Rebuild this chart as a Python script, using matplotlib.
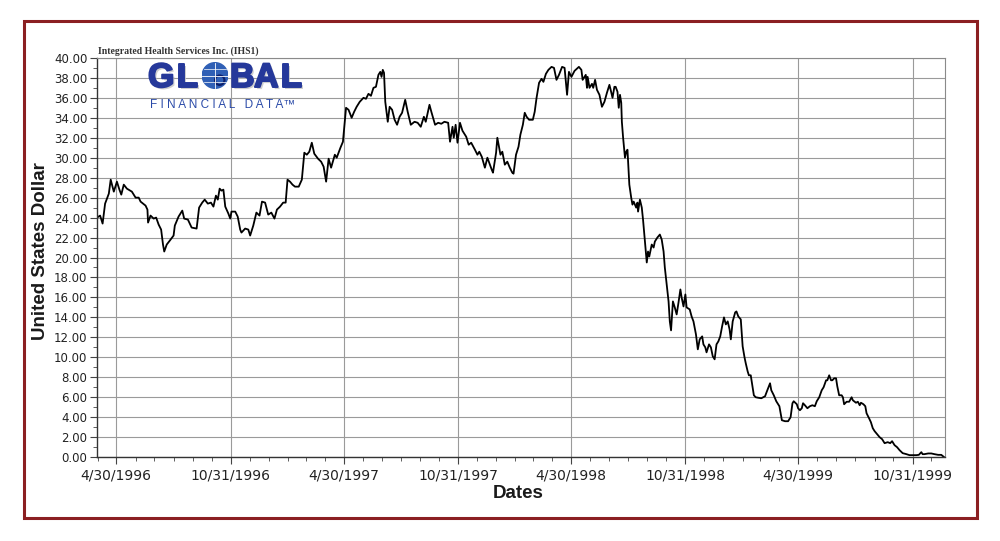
import pandas as pd
import matplotlib
matplotlib.use("Agg")
from matplotlib import pyplot as plt
import matplotlib.dates as mdates
from matplotlib.patches import Rectangle, Circle
from matplotlib.ticker import MultipleLocator, FormatStrFormatter
import matplotlib.patheffects as pe

# Integrated Health Services Inc. (IHS1), price in USD
dates_1996 = ["1996-03-30", "1996-04-04", "1996-04-08", "1996-04-12", "1996-04-18", "1996-04-21",
              "1996-04-26", "1996-05-01", "1996-05-05", "1996-05-08", "1996-05-12", "1996-05-17",
              "1996-05-25", "1996-05-31", "1996-06-05", "1996-06-08", "1996-06-16", "1996-06-19",
              "1996-06-20", "1996-06-24", "1996-06-29", "1996-07-03", "1996-07-07", "1996-07-11",
              "1996-07-14", "1996-07-16", "1996-07-20", "1996-07-25", "1996-07-31", "1996-08-02",
              "1996-08-08", "1996-08-14", "1996-08-17", "1996-08-23", "1996-08-29", "1996-09-06",
              "1996-09-10", "1996-09-15", "1996-09-19", "1996-09-24", "1996-09-29", "1996-10-03",
              "1996-10-07", "1996-10-10", "1996-10-13", "1996-10-16", "1996-10-19", "1996-10-22",
              "1996-10-27", "1996-10-30", "1996-11-01", "1996-11-07", "1996-11-11", "1996-11-15",
              "1996-11-17", "1996-11-23", "1996-11-28", "1996-12-01", "1996-12-06", "1996-12-11",
              "1996-12-16", "1996-12-20", "1996-12-25", "1996-12-30"]
price_1996 = [24.0, 24.2, 23.4, 25.4, 26.4, 27.8,
              26.6, 27.6, 26.8, 26.3, 27.3, 26.9,
              26.6, 26.0, 26.0, 25.6, 25.2, 24.8,
              23.5, 24.2, 23.9, 24.0, 23.3, 22.8,
              21.3, 20.6, 21.3, 21.7, 22.2, 23.2,
              24.1, 24.7, 23.9, 23.8, 23.0, 22.9,
              25.0, 25.5, 25.8, 25.4, 25.5, 25.1,
              26.2, 25.8, 26.9, 26.7, 26.8, 25.1,
              24.4, 23.9, 24.6, 24.6, 24.1, 22.8,
              22.5, 22.9, 22.8, 22.2, 23.2, 24.5,
              24.2, 25.6, 25.5, 24.3]

dates_1997 = ["1997-01-04", "1997-01-09", "1997-01-13", "1997-01-18", "1997-01-23", "1997-01-27",
              "1997-01-30", "1997-02-03", "1997-02-07", "1997-02-11", "1997-02-17", "1997-02-22",
              "1997-02-26", "1997-03-02", "1997-03-06", "1997-03-10", "1997-03-14", "1997-03-20",
              "1997-03-25", "1997-03-29", "1997-04-02", "1997-04-06", "1997-04-10", "1997-04-16",
              "1997-04-19", "1997-04-25", "1997-04-29", "1997-05-01", "1997-05-04", "1997-05-08",
              "1997-05-13", "1997-05-17", "1997-05-21", "1997-05-26", "1997-06-01", "1997-06-05",
              "1997-06-09", "1997-06-13", "1997-06-17", "1997-06-21", "1997-06-25", "1997-06-28",
              "1997-06-30", "1997-07-02", "1997-07-04", "1997-07-06", "1997-07-10", "1997-07-13",
              "1997-07-17", "1997-07-21", "1997-07-25", "1997-07-29", "1997-08-02", "1997-08-07",
              "1997-08-11", "1997-08-16", "1997-08-22", "1997-08-27", "1997-09-01", "1997-09-06",
              "1997-09-09", "1997-09-15", "1997-09-18", "1997-09-24", "1997-09-29", "1997-10-04",
              "1997-10-09", "1997-10-15", "1997-10-18", "1997-10-22", "1997-10-24", "1997-10-27",
              "1997-10-30", "1997-11-03", "1997-11-07", "1997-11-13", "1997-11-17", "1997-11-21",
              "1997-11-27", "1997-12-01", "1997-12-04", "1997-12-08", "1997-12-13", "1997-12-17",
              "1997-12-24", "1997-12-26", "1997-12-31"]
price_1997 = [24.5, 23.9, 24.8, 25.1, 25.5, 25.5,
              27.8, 27.6, 27.3, 27.1, 27.1, 27.8,
              30.5, 30.3, 30.6, 31.5, 30.4, 29.9,
              29.6, 29.1, 27.6, 29.9, 29.0, 30.3,
              30.0, 31.0, 31.6, 33.0, 35.0, 34.8,
              34.0, 34.6, 35.1, 35.6, 36.0, 35.9,
              36.4, 36.2, 37.0, 37.1, 38.3, 38.6,
              38.1, 38.8, 38.5, 35.6, 33.6, 35.1,
              34.8, 33.8, 33.3, 34.1, 34.5, 35.8,
              34.6, 33.3, 33.6, 33.5, 33.1, 34.1,
              33.6, 35.3, 34.6, 33.3, 33.5, 33.4,
              33.6, 33.5, 31.6, 33.1, 32.0, 33.3,
              31.5, 33.5, 32.7, 32.1, 31.3, 31.5,
              30.8, 30.3, 30.6, 30.1, 29.0, 30.0,
              28.8, 28.5, 30.5]

dates_1998 = ["1998-01-02", "1998-01-07", "1998-01-10", "1998-01-14", "1998-01-18", "1998-01-22",
              "1998-01-26", "1998-01-28", "1998-02-01", "1998-02-05", "1998-02-08", "1998-02-12",
              "1998-02-15", "1998-02-18", "1998-02-22", "1998-02-28", "1998-03-03", "1998-03-06",
              "1998-03-10", "1998-03-14", "1998-03-17", "1998-03-21", "1998-03-25", "1998-03-30",
              "1998-04-03", "1998-04-07", "1998-04-11", "1998-04-16", "1998-04-20", "1998-04-24",
              "1998-04-27", "1998-05-01", "1998-05-06", "1998-05-13", "1998-05-17", "1998-05-19",
              "1998-05-24", "1998-05-26", "1998-05-27", "1998-05-30", "1998-06-03", "1998-06-05",
              "1998-06-08", "1998-06-11", "1998-06-15", "1998-06-19", "1998-06-23", "1998-06-27",
              "1998-07-01", "1998-07-03", "1998-07-06", "1998-07-09", "1998-07-11", "1998-07-14",
              "1998-07-16", "1998-07-18", "1998-07-20", "1998-07-21", "1998-07-23", "1998-07-26",
              "1998-07-28", "1998-07-30", "1998-07-31", "1998-08-02", "1998-08-05", "1998-08-07",
              "1998-08-09", "1998-08-13", "1998-08-15", "1998-08-16", "1998-08-19", "1998-08-22",
              "1998-08-24", "1998-08-27", "1998-08-30", "1998-09-01", "1998-09-03", "1998-09-07",
              "1998-09-10", "1998-09-12", "1998-09-16", "1998-09-20", "1998-09-23", "1998-09-26",
              "1998-09-28", "1998-10-01", "1998-10-04", "1998-10-06", "1998-10-08", "1998-10-11",
              "1998-10-14", "1998-10-17", "1998-10-20", "1998-10-23", "1998-10-25", "1998-10-28",
              "1998-10-31", "1998-11-02", "1998-11-07", "1998-11-10", "1998-11-13", "1998-11-17",
              "1998-11-20", "1998-11-23", "1998-11-27", "1998-11-29", "1998-12-02", "1998-12-04",
              "1998-12-08", "1998-12-11", "1998-12-14", "1998-12-17", "1998-12-20", "1998-12-23",
              "1998-12-26", "1998-12-29"]
price_1998 = [32.0, 30.3, 30.6, 29.3, 29.6, 29.0,
              28.5, 28.4, 30.3, 31.1, 32.3, 33.3,
              34.5, 34.1, 33.8, 33.8, 34.6, 36.0,
              37.5, 37.9, 37.6, 38.4, 38.8, 39.1,
              39.0, 37.8, 38.3, 39.1, 39.0, 36.3,
              38.6, 38.1, 38.7, 39.1, 38.8, 37.8,
              38.3, 37.0, 38.1, 37.0, 37.4, 37.0,
              37.8, 36.8, 36.3, 35.1, 35.6, 36.5,
              37.3, 36.8, 36.0, 37.1, 37.1, 36.6,
              35.0, 36.3, 35.5, 33.6, 32.0, 30.0,
              30.6, 30.8, 29.6, 27.3, 26.0, 25.3,
              25.6, 25.0, 25.5, 24.6, 25.8, 25.0,
              23.8, 21.6, 19.5, 20.6, 20.1, 21.3,
              21.0, 21.6, 22.0, 22.3, 21.8, 20.6,
              19.0, 17.3, 15.6, 13.6, 12.7, 15.6,
              15.0, 14.3, 15.5, 16.8, 16.0, 15.1,
              16.3, 15.0, 14.8, 14.1, 13.6, 12.3,
              10.8, 11.8, 12.1, 11.3, 11.0, 10.5,
              11.3, 11.0, 10.1, 9.8, 11.3, 11.6,
              12.1, 13.1]

dates_1999 = ["1999-01-01", "1999-01-04", "1999-01-07", "1999-01-10", "1999-01-12", "1999-01-15",
              "1999-01-19", "1999-01-21", "1999-01-24", "1999-01-28", "1999-01-31", "1999-02-03",
              "1999-02-05", "1999-02-08", "1999-02-10", "1999-02-13", "1999-02-15", "1999-02-18",
              "1999-02-21", "1999-02-25", "1999-03-02", "1999-03-08", "1999-03-11", "1999-03-16",
              "1999-03-18", "1999-03-22", "1999-03-26", "1999-03-31", "1999-04-02", "1999-04-04",
              "1999-04-09", "1999-04-14", "1999-04-18", "1999-04-21", "1999-04-23", "1999-04-28",
              "1999-04-30", "1999-05-03", "1999-05-06", "1999-05-08", "1999-05-11", "1999-05-15",
              "1999-05-19", "1999-05-23", "1999-05-27", "1999-05-30", "1999-06-03", "1999-06-07",
              "1999-06-10", "1999-06-14", "1999-06-16", "1999-06-19", "1999-06-22", "1999-06-24",
              "1999-06-27", "1999-06-30", "1999-07-02", "1999-07-05", "1999-07-09", "1999-07-11",
              "1999-07-13", "1999-07-17", "1999-07-21", "1999-07-25", "1999-07-27", "1999-08-01",
              "1999-08-04", "1999-08-07", "1999-08-09", "1999-08-13", "1999-08-16", "1999-08-18",
              "1999-08-22", "1999-08-25", "1999-08-28", "1999-08-31", "1999-09-04", "1999-09-08",
              "1999-09-12", "1999-09-16", "1999-09-21", "1999-09-25", "1999-09-28", "1999-10-02",
              "1999-10-06", "1999-10-10", "1999-10-15", "1999-10-21", "1999-10-26", "1999-11-01",
              "1999-11-06", "1999-11-10", "1999-11-14", "1999-11-16", "1999-11-19", "1999-11-25",
              "1999-11-30", "1999-12-05", "1999-12-11", "1999-12-16", "1999-12-20"]
price_1999 = [14.0, 13.3, 13.6, 12.8, 11.8, 13.6,
              14.5, 14.6, 14.1, 13.8, 11.1, 10.0,
              9.4, 8.6, 8.2, 8.2, 7.4, 6.2,
              6.0, 5.95, 5.9, 6.1, 6.6, 7.4,
              6.7, 6.2, 5.6, 5.1, 4.4, 3.7,
              3.6, 3.6, 4.0, 5.4, 5.6, 5.3,
              4.9, 4.7, 4.9, 5.4, 5.2, 4.9,
              5.1, 5.2, 5.1, 5.6, 6.0, 6.7,
              7.0, 7.7, 7.7, 8.2, 7.7, 7.7,
              7.9, 7.9, 7.1, 6.2, 6.2, 6.0,
              5.3, 5.55, 5.55, 6.0, 5.7, 5.45,
              5.55, 5.2, 5.45, 5.3, 5.1, 4.4,
              3.9, 3.5, 2.9, 2.6, 2.3, 2.0,
              1.8, 1.4, 1.5, 1.4, 1.6, 1.2,
              1.0, 0.7, 0.4, 0.3, 0.2, 0.2,
              0.2, 0.23, 0.5, 0.3, 0.3, 0.37,
              0.37, 0.3, 0.23, 0.23, 0.03]

tick_dates = ["1996-04-30", "1996-10-31", "1997-04-30", "1997-10-31",
              "1998-04-30", "1998-10-31", "1999-04-30", "1999-10-31"]
tick_labels = ["4/30/1996", "10/31/1996", "4/30/1997", "10/31/1997",
               "4/30/1998", "10/31/1998", "4/30/1999", "10/31/1999"]

df = pd.DataFrame({
    "Date": pd.to_datetime(dates_1996 + dates_1997 + dates_1998 + dates_1999),
    "Price": price_1996 + price_1997 + price_1998 + price_1999,
})

fig = plt.figure(figsize=(10.0, 5.41), dpi=100)
fig.patch.set_facecolor("white")

# dark red frame round the whole chart
fig.patches.append(Rectangle((0.024, 0.043), 0.953, 0.918, transform=fig.transFigure,
                             fill=False, edgecolor="#8b1f22", linewidth=2.2))

ax = fig.add_axes([0.097, 0.155, 0.848, 0.738])
ax.plot(df["Date"], df["Price"], color="black", linewidth=1.3)

ax.set_ylim(0, 40)
ax.set_xlim(pd.Timestamp("1996-03-30"), pd.Timestamp("1999-12-22"))
ax.yaxis.set_major_locator(MultipleLocator(2))
ax.yaxis.set_minor_locator(MultipleLocator(1))
ax.yaxis.set_major_formatter(FormatStrFormatter("%.2f"))
ax.set_xticks(pd.to_datetime(tick_dates))
ax.set_xticklabels(tick_labels)
ax.xaxis.set_minor_locator(mdates.MonthLocator(bymonthday=-1))

ax.grid(True, which="major", color="#9a9a9a", linewidth=0.8)
ax.tick_params(axis="y", which="major", labelsize=8.5, length=5, color="#444444",
               labelcolor="#222222", pad=2)
ax.tick_params(axis="x", which="major", labelsize=10, length=5, color="#444444",
               labelcolor="#222222", pad=3)
ax.tick_params(which="minor", length=3, color="#444444")
for side in ["top", "right"]:
    ax.spines[side].set_color("#8a8a8a")
for side in ["left", "bottom"]:
    ax.spines[side].set_color("#333333")
    ax.spines[side].set_linewidth(1.0)

fig.text(0.041, 0.536, "United States Dollar", rotation=90, ha="center", va="center",
         fontsize=13.5, fontweight="bold", family="Liberation Sans", color="#1a1a1a")
fig.text(0.518, 0.087, "Dates", ha="center", va="center",
         fontsize=13.5, fontweight="bold", family="Liberation Sans", color="#1a1a1a")
fig.text(0.098, 0.9, "Integrated Health Services Inc. (IHS1)", ha="left", va="baseline",
         fontsize=7, fontweight="bold", family="Liberation Serif", color="#333333")

# logo: letters set one by one so the word is as wide as the original
blue = "#25389a"
logo_fx = [pe.withSimplePatchShadow(offset=(1.5, -1.5), shadow_rgbFace="#c4c4c4", alpha=0.8),
           pe.withStroke(linewidth=1.4, foreground=blue)]
for letter, x0 in [("G", 0.148), ("L", 0.177), ("B", 0.230), ("A", 0.254), ("L", 0.281)]:
    fig.text(x0, 1 - 87 / 541, letter, ha="left", va="baseline", fontsize=24.5,
             fontweight="bold", family="Liberation Sans", color=blue, path_effects=logo_fx)
globe = fig.add_axes([0.201, 1 - 89 / 541, 0.028, 27 / 541])
globe.set_xlim(-1, 1)
globe.set_ylim(-1, 1)
globe.set_aspect("equal")
globe.axis("off")
globe.add_patch(Circle((0, 0), 0.95, color="#2f5fb5"))
globe.plot([-0.95, 0.95], [0, 0], color="white", linewidth=0.6)
globe.plot([0, 0], [-0.95, 0.95], color="white", linewidth=0.6)
globe.plot([-0.85, 0.85], [0.45, 0.45], color="white", linewidth=0.5)
globe.plot([-0.85, 0.85], [-0.45, -0.45], color="white", linewidth=0.5)
globe.add_patch(Circle((0.35, -0.35), 0.35, fill=False, edgecolor="#0c1f6b", linewidth=1.5))
fig.text(0.15, 1 - 108 / 541, "F I N A N C I A L   D A T A\u2122", ha="left", va="baseline",
         fontsize=8.5, family="Liberation Sans", color="#2a4aa8")

plt.savefig("out.png", dpi=100, facecolor="white")
